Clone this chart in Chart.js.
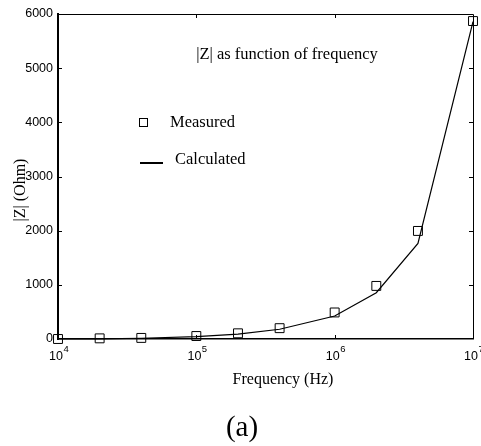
<!DOCTYPE html>
<html>
<head>
<meta charset="utf-8">
<script src="https://cdn.jsdelivr.net/npm/chart.js@4.4.0/dist/chart.umd.min.js"></script>
<style>
  html, body { margin: 0; padding: 0; background: #fff; }
  #wrap { width: 481px; height: 446px; }
</style>
</head>
<body>
<div id="wrap"><canvas id="chart" width="481" height="446"></canvas></div>
<script>
// frequency points (Hz)
const freqs = [1e4, 2e4, 4e4, 1e5, 2e5, 4e5, 1e6, 2e6, 4e6, 1e7]
// |Z| measured (Ohm)
const measured = [0, 12, 20, 55, 105, 200, 490, 980, 1995, 5870]
// |Z| calculated (Ohm)
const calculated = [0, 4, 14, 45, 90, 180, 425, 855, 1765, 5860]
// axis ticks
const xTicks = [1e4, 1e5, 1e6, 1e7]
const xTickExp = ['4', '5', '6', '7']
const yTicks = [0, 1000, 2000, 3000, 4000, 5000, 6000]

const serif = '"Liberation Serif", "Times New Roman", serif'
const sans = '"Liberation Sans", Arial, sans-serif'

const toPts = (ys) => freqs.map((f, i) => ({ x: f, y: ys[i] }))

// frame, inward ticks, x labels with exponents, texts and legend
const decorations = {
  id: 'decorations',
  afterDraw(chart) {
    const ctx = chart.ctx
    const a = chart.chartArea
    const xs = chart.scales.x
    const ys = chart.scales.y
    ctx.save()
    ctx.strokeStyle = '#000'

    // top and right frame
    ctx.lineWidth = 1
    ctx.beginPath()
    ctx.moveTo(a.left, a.top + 0.5)
    ctx.lineTo(a.right + 0.5, a.top + 0.5)
    ctx.lineTo(a.right + 0.5, a.bottom)
    ctx.stroke()

    // inward ticks
    ctx.beginPath()
    xTicks.slice(1, -1).forEach(v => {
      const px = Math.round(xs.getPixelForValue(v)) + 0.5
      ctx.moveTo(px, a.bottom); ctx.lineTo(px, a.bottom - 4)
      ctx.moveTo(px, a.top); ctx.lineTo(px, a.top + 4)
    })
    yTicks.slice(1, -1).forEach(v => {
      const py = Math.round(ys.getPixelForValue(v)) + 0.5
      ctx.moveTo(a.left, py); ctx.lineTo(a.left + 4, py)
      ctx.moveTo(a.right, py); ctx.lineTo(a.right - 4, py)
    })
    ctx.stroke()

    // x tick labels: 10 with raised exponent
    ctx.fillStyle = '#000'
    ctx.textBaseline = 'alphabetic'
    xTicks.forEach((v, i) => {
      const px = xs.getPixelForValue(v)
      ctx.font = '12.5px ' + sans
      ctx.textAlign = 'right'
      ctx.fillText('10', px + 5, a.bottom + 21)
      ctx.font = '9.5px ' + sans
      ctx.textAlign = 'left'
      ctx.fillText(xTickExp[i], px + 5.5, a.bottom + 13)
    })

    // axis titles
    ctx.textAlign = 'center'
    ctx.textBaseline = 'middle'
    ctx.font = '16px ' + serif
    ctx.fillText('Frequency (Hz)', 283, 380)
    ctx.save()
    ctx.translate(21, 190)
    ctx.rotate(-Math.PI / 2)
    ctx.fillText('|Z| (Ohm)', 0, 0)
    ctx.restore()

    // caption
    ctx.font = '29px ' + serif
    ctx.fillText('(a)', 242, 428)

    // annotation
    ctx.font = '16.5px ' + serif
    ctx.fillText('|Z| as function of frequency', 287, 55)

    // legend
    ctx.textAlign = 'left'
    ctx.font = '16.5px ' + serif
    ctx.lineWidth = 1
    ctx.strokeRect(139.5, 118.5, 8, 8)
    ctx.fillText('Measured', 170, 123)
    ctx.lineWidth = 2
    ctx.beginPath()
    ctx.moveTo(140, 163); ctx.lineTo(163, 163)
    ctx.stroke()
    ctx.fillText('Calculated', 175, 160)

    ctx.restore()
  }
}

new Chart(document.getElementById('chart'), {
  type: 'scatter',
  data: {
    datasets: [
      {
        label: 'Calculated',
        data: toPts(calculated),
        showLine: true,
        borderColor: '#000',
        borderWidth: 1.2,
        pointRadius: 0,
        tension: 0,
        clip: false
      },
      {
        label: 'Measured',
        data: toPts(measured),
        showLine: false,
        pointStyle: 'rect',
        pointRadius: 6.3,
        pointBorderColor: '#000',
        pointBackgroundColor: 'rgba(0,0,0,0)',
        pointBorderWidth: 1,
        clip: false
      }
    ]
  },
  options: {
    responsive: false,
    animation: false,
    layout: { padding: { top: 14, right: 8, bottom: 0, left: 0 } },
    plugins: {
      legend: { display: false },
      tooltip: { enabled: false }
    },
    scales: {
      x: {
        type: 'logarithmic',
        min: 1e4,
        max: 1e7,
        afterBuildTicks(scale) {
          scale.ticks = xTicks.map(v => ({ value: v }))
        },
        afterFit(scale) {
          scale.height = 107
          scale.paddingLeft = 0
          scale.paddingRight = 0
        },
        grid: { display: false, drawTicks: false },
        border: { display: true, color: '#000', width: 1.5 },
        ticks: { display: false }
      },
      y: {
        min: 0,
        max: 6000,
        afterBuildTicks(scale) {
          scale.ticks = yTicks.map(v => ({ value: v }))
        },
        afterFit(scale) {
          scale.width = 58
          scale.paddingTop = 0
          scale.paddingBottom = 0
        },
        grid: { display: false, drawTicks: false },
        border: { display: true, color: '#000', width: 2 },
        ticks: {
          color: '#000',
          padding: 5,
          font: { family: sans, size: 12.5 },
          callback: (v) => String(v)
        }
      }
    }
  },
  plugins: [decorations]
})
</script>
</body>
</html>
